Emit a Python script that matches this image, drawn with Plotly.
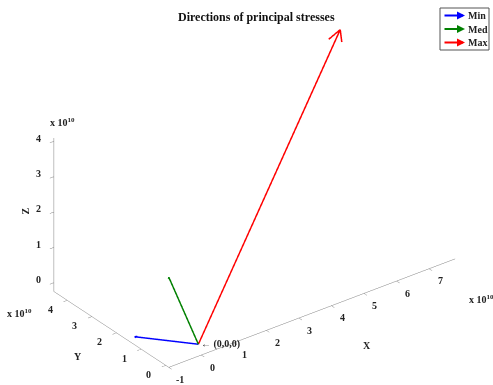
import numpy as np
import plotly.graph_objects as go

# principal stress direction vectors (value x 1e10)
names = ["Min", "Med", "Max"]
colors = ["#0000ff", "#008000", "#ff0000"]
vec_x = [-0.76e10, -1.0e10, 7.8e10]
vec_y = [1.58e10, -0.12e10, 4.54e10]
vec_z = [-0.25e10, 2.30e10, 4.09e10]

x_ticks = [-1, 0, 1, 2, 3, 4, 5, 6, 7]
y_ticks = [0, 1, 2, 3, 4]
z_ticks = [0, 1, 2, 3, 4]
scale = 1e10
exp_label = "<b>x 10<sup>10</sup></b>"

FONT = "Liberation Serif"
TXT = "#222222"

fig = go.Figure()
head_frac = 0.035
head_w = 0.5
for n, c, u, v, w in zip(names, colors, vec_x, vec_y, vec_z):
    L = np.array([u, v, w])
    tip = L
    base = L * (1 - head_frac)
    side = np.array([-v, u, 0.0])
    nrm = np.linalg.norm(side)
    if nrm > 0:
        side = side / nrm * np.linalg.norm(L) * head_frac * head_w
    h1 = base + side
    h2 = base - side
    xs = [0, tip[0], None, h1[0], tip[0], h2[0]]
    ys = [0, tip[1], None, h1[1], tip[1], h2[1]]
    zs = [0, tip[2], None, h1[2], tip[2], h2[2]]
    fig.add_trace(go.Scatter3d(x=xs, y=ys, z=zs, mode="lines", name=n,
                               line=dict(color=c, width=3), hoverinfo="skip",
                               showlegend=False))

xr = [min(vec_x + [0]), max(vec_x + [0])]
yr = [min(vec_y + [0]), max(vec_y + [0])]
zr = [min(vec_z + [0]), max(vec_z + [0])]
dx, dy, dz = xr[1] - xr[0], yr[1] - yr[0], zr[1] - zr[0]
m = max(dx, dy, dz)
box_scale = 2 / 1.075 * 1.01 * 1.025

axcommon = dict(showbackground=False, showgrid=False, zeroline=False,
                showline=True, linecolor="#808080", linewidth=1,
                ticks="outside", ticklen=5, tickcolor="#808080",
                showticklabels=False, title=dict(text=""),
                showspikes=False, mirror=False)

el = np.deg2rad(30)
az = np.deg2rad(232.85)
k = 2.0
eye = dict(x=k * np.cos(el) * np.cos(az), y=k * np.cos(el) * np.sin(az), z=k * np.sin(el))

tf = dict(family=FONT, size=10, color=TXT)
ef = dict(family=FONT, size=10, color=TXT)
ann = []
for t in x_ticks:
    ann.append(dict(x=t * scale, y=yr[0], z=zr[0], text="<b>%d</b>" % t, showarrow=False,
                    xanchor="center", yanchor="middle", xshift=11, yshift=-12, font=tf))
for t in y_ticks:
    ann.append(dict(x=xr[0], y=t * scale, z=zr[0], text="<b>%d</b>" % t, showarrow=False,
                    xanchor="center", yanchor="middle", xshift=-17, yshift=-9, font=tf))
for t in z_ticks:
    ann.append(dict(x=xr[0], y=yr[1], z=t * scale, text="<b>%d</b>" % t, showarrow=False,
                    xanchor="right", yanchor="middle", xshift=-11, yshift=3, font=tf))
xm, ym, zm = (xr[0] + xr[1]) / 2, (yr[0] + yr[1]) / 2, (zr[0] + zr[1]) / 2
ann += [
    dict(x=xm, y=yr[0], z=zr[0], text="<b>X</b>", showarrow=False, xshift=55, yshift=-32, font=tf),
    dict(x=xr[0], y=ym, z=zr[0], text="<b>Y</b>", showarrow=False, xshift=-33, yshift=-27, font=tf),
    dict(x=xr[0], y=yr[1], z=zm, text="<b>Z</b>", showarrow=False, xshift=-28, yshift=4,
         textangle=-90, font=tf),
    dict(x=xr[1], y=yr[0], z=zr[0], text=exp_label, showarrow=False, xanchor="left",
         xshift=12, yshift=-40, font=ef),
    dict(x=xr[0], y=yr[1], z=zr[0], text=exp_label, showarrow=False, xanchor="right",
         xshift=-20, yshift=-21, font=ef),
    dict(x=xr[0], y=yr[1], z=zr[1], text=exp_label, showarrow=False, xanchor="left",
         xshift=-6, yshift=16, font=ef),
    dict(x=0, y=0, z=0, text="<b>\u2190 (0,0,0)</b>", showarrow=False,
         xanchor="left", xshift=1, font=tf),
]

W, H = 493, 385
# hand-drawn legend box (MATLAB style with arrow symbols)
leg_l, leg_r, leg_t, leg_b = 440, 489, 8, 50
shapes = [dict(type="rect", xref="paper", yref="paper",
               x0=leg_l / W, x1=leg_r / W, y0=1 - leg_b / H, y1=1 - leg_t / H,
               line=dict(color="#555555", width=1), fillcolor="white")]
paper_ann = [dict(text="<b>Directions of principal stresses</b>", xref="paper", yref="paper",
                  x=256 / W, y=1 - 17 / H, xanchor="center", yanchor="middle", showarrow=False,
                  font=dict(family=FONT, size=12, color="#111"))]
for i, (n, c) in enumerate(zip(names, colors)):
    yy = 1 - (15.5 + 13.5 * i) / H
    paper_ann.append(dict(xref="paper", yref="paper", x=465 / W, y=yy, ax=-22, ay=0,
                          text="", showarrow=True, arrowhead=2, arrowsize=0.8,
                          arrowwidth=2, arrowcolor=c))
    paper_ann.append(dict(xref="paper", yref="paper", x=466 / W, y=yy, text="<b>%s</b>" % n,
                          xanchor="left", yanchor="middle", showarrow=False,
                          font=dict(family=FONT, size=10, color=TXT)))

fig.update_layout(
    width=W, height=H,
    margin=dict(l=0, r=0, t=0, b=0),
    paper_bgcolor="white",
    font=dict(family=FONT, size=11, color=TXT),
    showlegend=False,
    shapes=shapes,
    annotations=paper_ann,
    scene=dict(
        domain=dict(x=[0.032, 1], y=[0, 0.969]),
        xaxis=dict(axcommon, range=xr, tickvals=[t * scale for t in x_ticks]),
        yaxis=dict(axcommon, range=yr, tickvals=[t * scale for t in y_ticks]),
        zaxis=dict(axcommon, range=zr, tickvals=[t * scale for t in z_ticks]),
        aspectmode="manual",
        aspectratio=dict(x=dx / m * box_scale, y=dy / m * box_scale, z=dz / m * box_scale),
        camera=dict(projection=dict(type="orthographic"), eye=eye,
                    up=dict(x=0, y=0, z=1), center=dict(x=0, y=0, z=0)),
        annotations=ann,
    ),
)

fig.write_html("out.html", config=dict(displayModeBar=False),
               post_script="document.body.style.margin='0';")
